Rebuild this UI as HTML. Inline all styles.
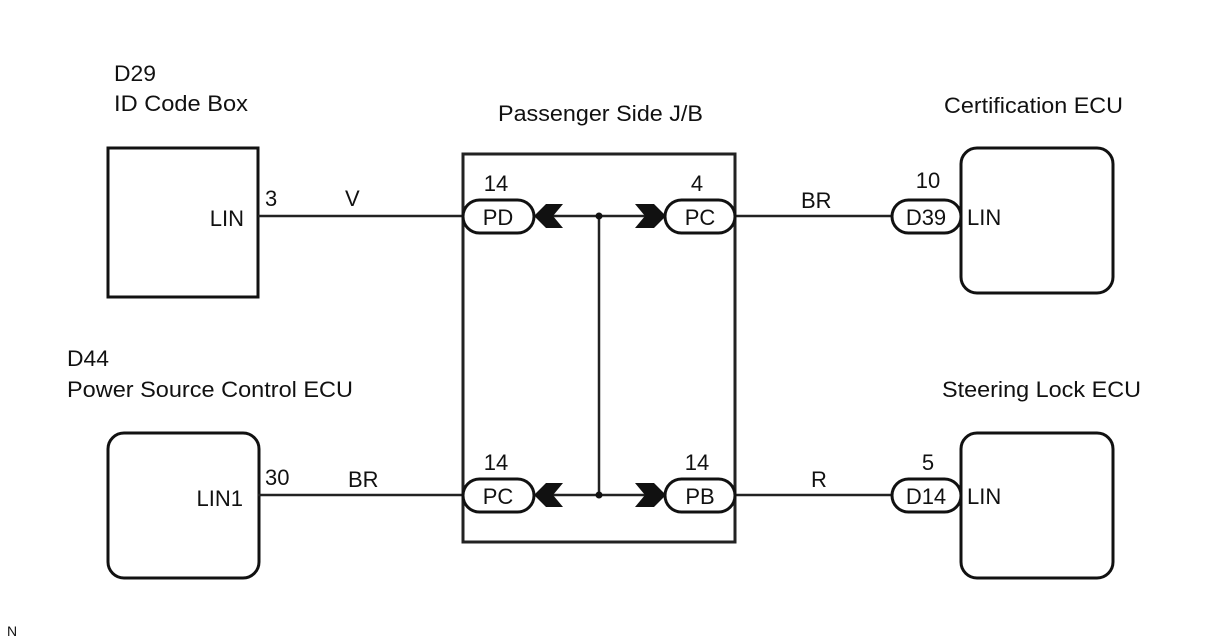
<!DOCTYPE html>
<html><head><meta charset="utf-8"><style>
html,body{margin:0;padding:0;background:#fff;}
svg{display:block;}
text{font-family:"Liberation Sans",Arial,sans-serif;fill:#111;}
</style></head><body>
<svg width="1208" height="644" viewBox="0 0 1208 644" xmlns="http://www.w3.org/2000/svg">
<g font-size="22">
<text x="114" y="81" textLength="42" lengthAdjust="spacingAndGlyphs">D29</text>
<text x="114" y="111" textLength="134" lengthAdjust="spacingAndGlyphs">ID Code Box</text>
<text x="498" y="121" textLength="205" lengthAdjust="spacingAndGlyphs">Passenger Side J/B</text>
<text x="944" y="113" textLength="179" lengthAdjust="spacingAndGlyphs">Certification ECU</text>
<text x="67" y="366" textLength="42" lengthAdjust="spacingAndGlyphs">D44</text>
<text x="67" y="397" textLength="286" lengthAdjust="spacingAndGlyphs">Power Source Control ECU</text>
<text x="942" y="397" textLength="199" lengthAdjust="spacingAndGlyphs">Steering Lock ECU</text>
</g>
<text x="7" y="636" font-size="14">N</text>

<rect x="108" y="148" width="150" height="149" fill="none" stroke="#111" stroke-width="3"/>
<rect x="108" y="433" width="151" height="145" rx="16" fill="none" stroke="#111" stroke-width="3"/>
<rect x="961" y="148" width="152" height="145" rx="16" fill="none" stroke="#111" stroke-width="3"/>
<rect x="961" y="433" width="152" height="145" rx="16" fill="none" stroke="#111" stroke-width="3"/>
<rect x="463" y="154" width="272" height="388" fill="none" stroke="#222" stroke-width="3"/>

<g stroke="#222" stroke-width="2.5" fill="none">
<line x1="258" y1="216" x2="463" y2="216"/>
<line x1="258" y1="495" x2="463" y2="495"/>
<line x1="735" y1="216" x2="892" y2="216"/>
<line x1="735" y1="495" x2="892" y2="495"/>
<line x1="540" y1="216" x2="660" y2="216"/>
<line x1="540" y1="495" x2="660" y2="495"/>
<line x1="599" y1="216" x2="599" y2="495"/>
</g>
<circle cx="599" cy="216" r="3.5" fill="#111"/>
<circle cx="599" cy="495" r="3.5" fill="#111"/>

<g fill="#111">
<polygon points="534,216 546,204 563,204 553,216 563,228 546,228"/>
<polygon points="666,216 654,204 635,204 645,216 635,228 654,228"/>
<polygon points="534,495 546,483 563,483 553,495 563,507 546,507"/>
<polygon points="666,495 654,483 635,483 645,495 635,507 654,507"/>
</g>

<g fill="#fff" stroke="#111" stroke-width="3">
<rect x="463" y="200" width="71" height="33" rx="16.5"/>
<rect x="665" y="200" width="70" height="33" rx="16.5"/>
<rect x="463" y="479" width="71" height="33" rx="16.5"/>
<rect x="665" y="479" width="70" height="33" rx="16.5"/>
<rect x="892" y="200" width="69" height="33" rx="16.5"/>
<rect x="892" y="479" width="69" height="33" rx="16.5"/>
</g>
<g font-size="22" text-anchor="middle">
<text x="498" y="225">PD</text>
<text x="700" y="225">PC</text>
<text x="498" y="504">PC</text>
<text x="700" y="504">PB</text>
<text x="926" y="225">D39</text>
<text x="926" y="504">D14</text>
<text x="496" y="191">14</text>
<text x="697" y="191">4</text>
<text x="496" y="470">14</text>
<text x="697" y="470">14</text>
<text x="928" y="188">10</text>
<text x="928" y="470">5</text>
</g>
<g font-size="22">
<text x="265" y="206">3</text>
<text x="345" y="206">V</text>
<text x="801" y="208">BR</text>
<text x="265" y="485">30</text>
<text x="348" y="487">BR</text>
<text x="811" y="487">R</text>
<text x="967" y="225">LIN</text>
<text x="967" y="504">LIN</text>
<text x="244" y="226" text-anchor="end">LIN</text>
<text x="243" y="506" text-anchor="end">LIN1</text>
</g>
</svg>
</body></html>
